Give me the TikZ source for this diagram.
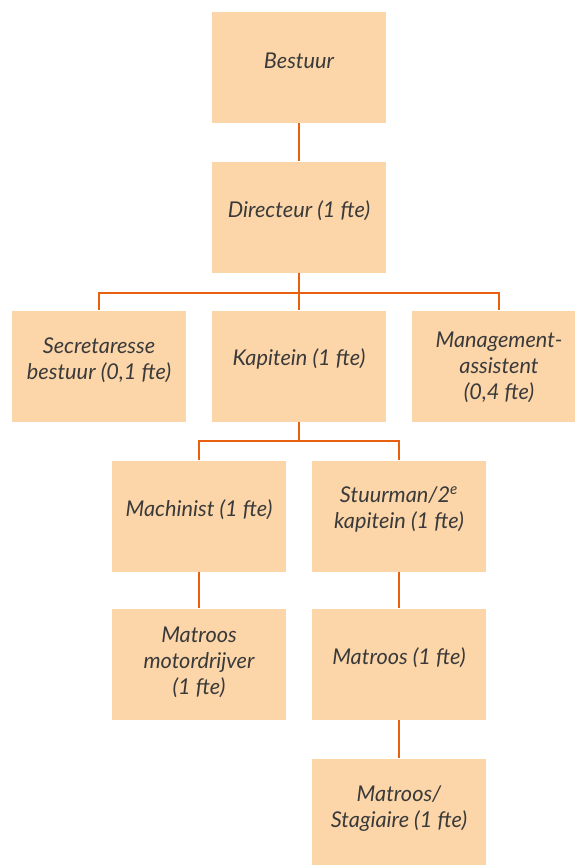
\documentclass[tikz,border=0pt]{standalone}
\usepackage{fontspec}
\setmainfont{Lato}
\definecolor{boxfill}{HTML}{FCD6A9}
\definecolor{lineor}{HTML}{E8600F}
\definecolor{txt}{HTML}{3A3A3A}
\begin{document}
\begin{tikzpicture}[x=0.75pt,y=-0.75pt,
  orgbox/.style={fill=boxfill,draw=none,inner sep=0pt,minimum width=130.5pt,minimum height=83.25pt},
  lbl/.style={text=txt,font=\fontsize{16.3}{19.5}\selectfont\itshape,align=center,inner sep=0pt},
  conn/.style={draw=lineor,line width=1.5pt}]
\useasboundingbox (0,0) rectangle (575,865);
\clip (0,0) rectangle (575,865);
% boxes (centres in px)
\node[orgbox] (bestuur) at (299,67.5) {};
\node[orgbox] (directeur) at (299,217) {};
\node[orgbox] (secr) at (99,366) {};
\node[orgbox] (kapitein) at (299,366) {};
\node[orgbox] (mgmt) at (499,366) {};
\node[orgbox] (machinist) at (199,516) {};
\node[orgbox] (stuurman) at (399,516) {};
\node[orgbox] (motor) at (199,664) {};
\node[orgbox] (matroos) at (399,664) {};
\node[orgbox] (stagiaire) at (399,814) {};
% labels
\node[lbl] at ([yshift=5pt]bestuur.center) {Bestuur};
\node[lbl] at ([yshift=5pt]directeur.center) {Directeur (1 fte)};
\node[lbl] at ([yshift=4pt]secr.center) {Secretaresse\\bestuur (0,1 fte)};
\node[lbl] at ([yshift=5pt]kapitein.center) {Kapitein (1 fte)};
\node[lbl] at ([yshift=-1pt]mgmt.center) {Management-\\assistent\\(0,4 fte)};
\node[lbl] at ([yshift=5pt]machinist.center) {Machinist (1 fte)};
\node[lbl] at ([yshift=5pt]stuurman.center) {Stuurman/2\textsuperscript{e}\\kapitein (1 fte)};
\node[lbl] at ([yshift=1pt]motor.center) {Matroos\\motordrijver\\(1 fte)};
\node[lbl] at ([yshift=5pt]matroos.center) {Matroos (1 fte)};
\node[lbl] at ([yshift=4pt]stagiaire.center) {Matroos/\\Stagiaire (1 fte)};
% connectors
\draw[conn] (bestuur.south) -- (directeur.north);
\coordinate (h1) at (299,293);
\draw[conn] (directeur.south) -- (h1);
\draw[conn] (secr.north) |- (h1) -| (mgmt.north);
\draw[conn] (h1) -- (kapitein.north);
\coordinate (h2) at (299,441);
\draw[conn] (kapitein.south) -- (h2);
\draw[conn] (machinist.north) |- (h2) -| (stuurman.north);
\draw[conn] (machinist.south) -- (motor.north);
\draw[conn] (stuurman.south) -- (matroos.north);
\draw[conn] (matroos.south) -- (stagiaire.north);
\end{tikzpicture}
\end{document}
